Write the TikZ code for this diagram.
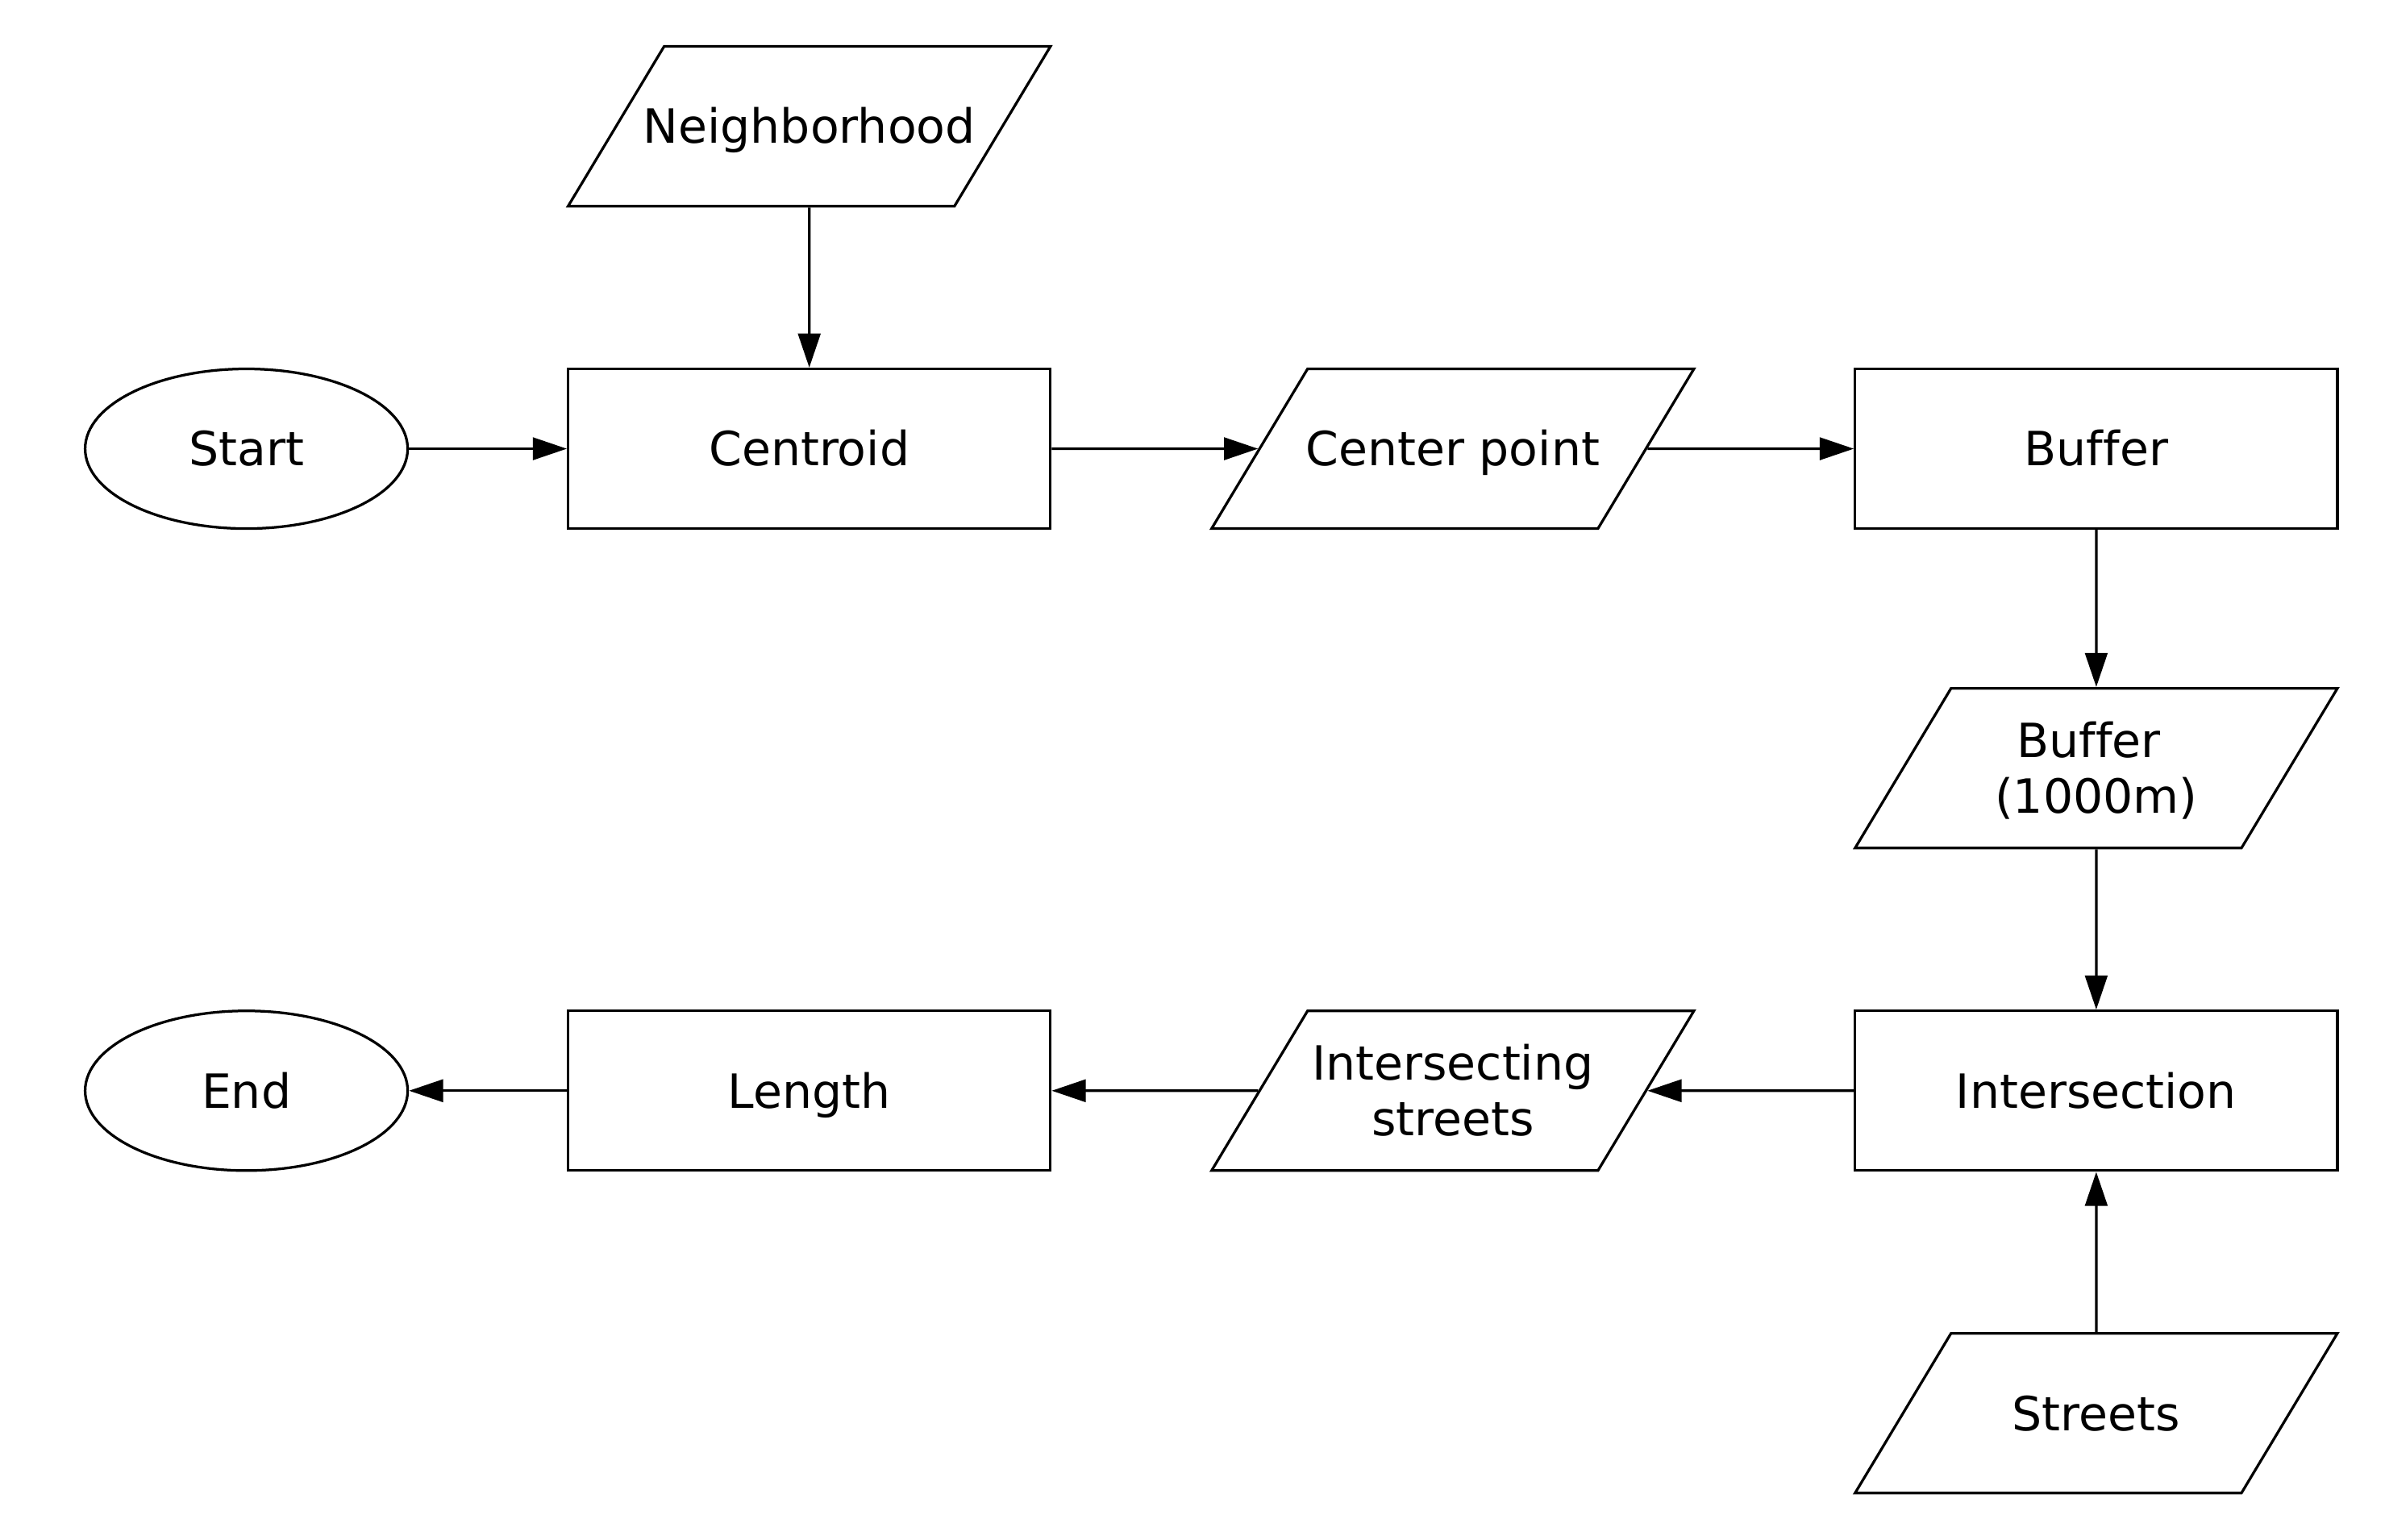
\documentclass[tikz,border=0pt]{standalone}
\usepackage{fontspec}
\setmainfont{DejaVu Sans}[Ligatures=NoCommon]
\usetikzlibrary{shapes.geometric,arrows.meta}

% one centred line inside a data box
\newcommand{\dataline}[1]{\hbox to 2.727cm{\hss\smash{#1}\vphantom{X}\hss}}

\begin{document}
\begin{tikzpicture}[line width=0.7pt]
    \useasboundingbox (0,0) rectangle (22.398,-14.462);
    \begin{scope}[shift={(0,0)}]
        \begin{scope}[every node/.style={draw, minimum width=4.529cm, minimum height=1.5cm, inner sep=0pt, text height=9.2pt, text depth=0pt, font=\fontsize{12.6}{15}\selectfont},
                      data/.style={trapezium, trapezium left angle=59, trapezium right angle=121, minimum width=0pt, minimum height=0pt, text height=1.5cm}]
            \node[ellipse, minimum width=3.029cm] (start) at (2.314,-4.214) {Start};
            \node (centroid) at (7.6,-4.214) {Centroid};
            \node[data] (hood) at (7.6,-1.186) {\vbox to 1.5cm{\vss\dataline{Neighborhood}\vss}};
            \node[data] (center) at (13.643,-4.214) {\vbox to 1.5cm{\vss\dataline{Center point}\vss}};
            \node (buffer) at (19.686,-4.214) {Buffer};
            \node[data] (bufferout) at (19.686,-7.214) {\vbox to 1.5cm{\vss\dataline{Buffer\ }\dataline{(1000m)}\vss}};
            \node (inter) at (19.686,-10.243) {Intersection};
            \node[data] (streets) at (19.686,-13.271) {\vbox to 1.5cm{\vss\dataline{Streets}\vss}};
            \node[data] (interout) at (13.643,-10.243) {\vbox to 1.5cm{\vss\dataline{Intersecting}\dataline{streets}\vss}};
            \node (length) at (7.6,-10.243) {Length};
            \node[ellipse, minimum width=3.029cm] (end) at (2.314,-10.243) {End};
        \end{scope}

        \begin{scope}[every edge/.style={draw, -{Triangle[length=3.2mm,width=2.1mm]}}]
            \path (hood) edge (centroid);
            \path (start) edge (centroid);
            \path (centroid) edge (center);
            \path (center) edge (buffer);
            \path (buffer) edge (bufferout);
            \path (bufferout) edge (inter);
            \path (streets) edge (inter);
            \path (inter) edge (interout);
            \path (interout) edge (length);
            \path (length) edge (end);
        \end{scope}
    \end{scope}
\end{tikzpicture}
\end{document}
